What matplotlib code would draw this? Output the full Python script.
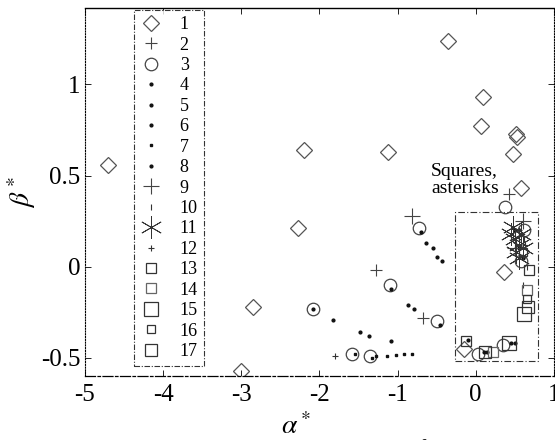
import matplotlib
matplotlib.use("Agg")
import matplotlib.pyplot as plt
from matplotlib.patches import Rectangle

plt.rcParams['font.family'] = ['Liberation Serif', 'DejaVu Serif']
plt.rcParams['mathtext.fontset'] = 'stix'

# ---- data ----
s1_x = [-4.7, -3.0, -2.85, -2.28, -2.2, -1.12, -0.35, 0.09, 0.07, 0.52, 0.53, 0.48, 0.58, 0.36, -0.15]
s1_y = [0.56, -0.57, -0.22, 0.21, 0.64, 0.63, 1.24, 0.93, 0.77, 0.73, 0.71, 0.62, 0.43, -0.03, -0.45]
s2_x = [-1.28, -0.68, 0.42]
s2_y = [-0.02, -0.28, 0.40]
s3_x = [-0.72, -1.1, -0.5, -2.08, -1.58, -1.35, 0.03, 0.35, 0.38, 0.58, 0.62]
s3_y = [0.21, -0.1, -0.3, -0.23, -0.48, -0.49, -0.48, -0.43, 0.33, 0.03, 0.2]
s4_x = [-0.63, -0.55, -0.5, -0.43]
s4_y = [0.13, 0.10, 0.055, 0.03]
s5_x = [-0.87, -0.79, -0.7, -1.08, -0.46]
s5_y = [-0.21, -0.23, 0.19, -0.12, -0.32]
s6_x = [-1.83, -1.48, -1.36, -1.09, -2.08]
s6_y = [-0.29, -0.36, -0.38, -0.41, -0.23]
s7_x = [-1.27, -1.14, -1.02, -0.92, -0.81, -1.55, -1.33]
s7_y = [-0.49, -0.49, -0.485, -0.48, -0.48, -0.48, -0.5]
s8_x = [0.5, 0.55, 0.6, 0.1, 0.15, 0.45, 0.5, -0.1]
s8_y = [0.2, 0.1, 0.05, -0.47, -0.47, -0.42, -0.42, -0.4]
s9_x = [-0.82, 0.6, 0.5]
s9_y = [0.28, 0.25, 0.1]
s10_x = [0.62, 0.65, 0.6]
s10_y = [0.15, 0.0, -0.1]
s11_x = [0.45, 0.5, 0.55, 0.58, 0.52, 0.6, 0.48, 0.56]
s11_y = [0.18, 0.15, 0.12, 0.18, 0.08, 0.1, 0.22, 0.05]
s12_x = [0.63, 0.55, -1.8]
s12_y = [0.12, 0.2, -0.49]
s13_x = [0.68, -0.12]
s13_y = [-0.02, -0.41]
s14_x = [0.66, 0.22]
s14_y = [-0.13, -0.47]
s15_x = [0.62, 0.42]
s15_y = [-0.26, -0.42]
s16_x = [0.65, 0.6]
s16_y = [-0.18, 0.08]
s17_x = [0.67, 0.12]
s17_y = [-0.22, -0.47]
labels = [str(i) for i in range(1, 18)]

xticks = [-5, -4, -3, -2, -1, 0, 1]
yticks = [-0.5, 0, 0.5, 1]

fig = plt.figure(figsize=(5.55, 4.4), dpi=100)
ax = fig.add_axes([0.153, 0.1455, 0.845, 0.8364])

series = [
    (s1_x, s1_y, dict(marker='D', ms=8, mfc='none', mec='#555555', mew=0.9)),
    (s2_x, s2_y, dict(marker='+', ms=9, mec='#444444', mew=0.8)),
    (s3_x, s3_y, dict(marker='o', ms=9, mfc='none', mec='#444444', mew=0.9)),
    (s4_x, s4_y, dict(marker='.', ms=4, mfc='#111111', mec='#111111')),
    (s5_x, s5_y, dict(marker='.', ms=4, mfc='#111111', mec='#111111')),
    (s6_x, s6_y, dict(marker='.', ms=4, mfc='#111111', mec='#111111')),
    (s7_x, s7_y, dict(marker='s', ms=2, mfc='#111111', mec='#111111')),
    (s8_x, s8_y, dict(marker='.', ms=4, mfc='#111111', mec='#111111')),
    (s9_x, s9_y, dict(marker='+', ms=12, mec='#444444', mew=0.8)),
    (s10_x, s10_y, dict(marker='|', ms=5, mec='#333333', mew=0.8)),
    (s11_x, s11_y, dict(marker=(6, 2, 0), ms=16, mec='#333333', mew=0.6)),
    (s12_x, s12_y, dict(marker='+', ms=5, mec='#333333', mew=0.8)),
    (s13_x, s13_y, dict(marker='s', ms=7, mfc='none', mec='#333333', mew=0.9)),
    (s14_x, s14_y, dict(marker='s', ms=7, mfc='none', mec='#666666', mew=0.9)),
    (s15_x, s15_y, dict(marker='s', ms=10, mfc='none', mec='#333333', mew=0.9)),
    (s16_x, s16_y, dict(marker='s', ms=6, mfc='none', mec='#333333', mew=0.9)),
    (s17_x, s17_y, dict(marker='s', ms=8, mfc='none', mec='#333333', mew=0.9)),
]
for (xs, ys, kw), lab in zip(series, labels):
    ax.plot(xs, ys, label=lab, ls='none', **kw)

# box around the squares / asterisks
ax.add_patch(Rectangle((-0.27, -0.52), 1.07, 0.82, fill=False,
                       ec='#333333', lw=0.8, ls=(0, (6, 2, 1, 2))))
ax.text(-0.57, 0.57, 'Squares,\nasterisks', fontsize=14, va='top', ha='left',
        linespacing=1.0)

ax.set_xlim(-5, 1)
ax.set_ylim(-0.6, 1.42)
ax.set_xticks(xticks)
ax.set_yticks(yticks)
ax.set_xticklabels(['-5', '-4', '-3', '-2', '-1', '0', '1'])
ax.set_yticklabels(['-0.5', '0', '0.5', '1'])
ax.tick_params(direction='in', top=True, right=True, length=4, width=0.6,
               labelsize=18)
ax.tick_params(axis='x', pad=6)
ax.tick_params(axis='y', pad=3)

for side in ['left', 'right']:
    ax.spines[side].set_linestyle((0, (1, 1.5)))
    ax.spines[side].set_linewidth(0.8)
ax.spines['bottom'].set_linestyle((0, (8, 2, 2, 2)))
ax.spines['bottom'].set_linewidth(0.9)
ax.spines['top'].set_linewidth(1.0)

ax.set_xlabel(r'$\alpha^*$', fontsize=20)
ax.xaxis.set_label_coords(0.45, -0.1)
ax.set_ylabel(r'$\beta^*$', fontsize=20)
ax.yaxis.set_label_coords(-0.1, 0.5)

leg = ax.legend(loc='upper left', bbox_to_anchor=(0.104, 0.995), fontsize=13,
                frameon=True, fancybox=False, numpoints=1, handlelength=1.2,
                handletextpad=1.0, borderpad=0.35, labelspacing=0.19,
                borderaxespad=0)
fr = leg.get_frame()
fr.set_edgecolor('black')
fr.set_linewidth(0.8)
fr.set_linestyle((0, (5, 1.5, 1, 1.5)))

fig.text(0.13, -0.02, 'Figura 5. Intersección de las curvas de fallo MOHR-COULOMB',
         fontsize=16, va='center', ha='left')

fig.savefig('out.png', dpi=100)
